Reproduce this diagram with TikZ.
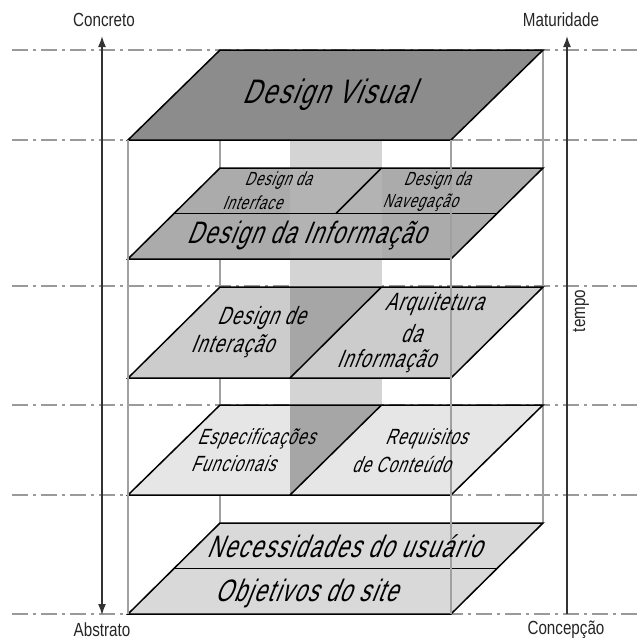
\documentclass[tikz,border=0pt]{standalone}
\usepackage{fontspec}
\setmainfont{Liberation Sans}
\newfontfamily\lblfont[FakeStretch=0.8]{Liberation Sans}
\newfontfamily\sltfont[FakeStretch=0.7,FakeSlant=0.4,LetterSpace=5]{Liberation Sans}
\newfontfamily\dvfont[FakeStretch=0.72,FakeSlant=0.4,LetterSpace=6]{Liberation Sans}
\usetikzlibrary{arrows.meta}
\definecolor{dashc}{HTML}{9A9A9A}
\definecolor{boxc}{HTML}{A0A0A0}
\definecolor{lay1}{HTML}{8C8C8C}
\definecolor{lay2}{HTML}{ABABAB}
\definecolor{lay3}{HTML}{CCCCCC}
\definecolor{lay4}{HTML}{E6E6E6}
\definecolor{lay5}{HTML}{D9D9D9}
\definecolor{bandc}{HTML}{D4D4D4}
\definecolor{darkc}{HTML}{A6A6A6}
\definecolor{axisc}{HTML}{333333}
\tikzset{
  guide/.style={draw=dashc, line width=2.6pt, dash pattern=on 16pt off 5pt on 3pt off 5pt},
  boxline/.style={draw=boxc, line width=1.4pt},
  layer/.style={draw=black, line width=1.5pt, line join=miter},
  dvis/.style={font=\dvfont\fontsize{34}{34}\selectfont, inner sep=0pt},
  big/.style={font=\sltfont\fontsize{31}{31}\selectfont, inner sep=0pt},
  mid/.style={font=\sltfont\fontsize{25}{27}\selectfont, inner sep=0pt},
  sml/.style={font=\sltfont\fontsize{22}{24}\selectfont, inner sep=0pt},
  tny/.style={font=\sltfont\fontsize{19}{20}\selectfont, inner sep=0pt},
  axislbl/.style={font=\lblfont\fontsize{19}{19}\selectfont, text=black!85, inner sep=0pt},
  axisarrow/.style={draw=axisc, line width=1.6pt},
  tip/.style={-{Latex[length=11pt,width=8pt]}}
}
\begin{document}
\begin{tikzpicture}[x=1pt,y=-1pt]
\useasboundingbox (0,0) rectangle (642,641);
\fill[white] (0,0) rectangle (642,641);

% guide lines (behind)
\foreach \yy/\nm in {50/g1,140/g2,286/g3,405/g4,495/g5,614/g6}{
  \coordinate (\nm l) at (12,\yy);
  \coordinate (\nm r) at (642,\yy);
  \draw[guide] (\nm l) -- (\nm r);
}

% shaded vertical band
\fill[bandc] (290,140) rectangle (382,405);

% back vertical edges
\coordinate (bl1) at (220,140); \coordinate (bl2) at (220,523);
\coordinate (br1) at (543,50);  \coordinate (br2) at (543,523);
\draw[boxline] (bl1) -- (bl2);
\draw[boxline] (br1) -- (br2);

% ---------- Layer 1: Design Visual
\fill[lay1] (220,50) -- (543,50) -- (451,140) -- (128,140) -- cycle;
\draw[layer] (220,50) -- (543,50) -- (451,140) -- (128,140) -- cycle;

% ---------- Layer 2
\fill[lay2] (220,168) -- (543,168) -- (451,259) -- (128,259) -- cycle;
\begin{scope}
  \clip (220,168) -- (543,168) -- (451,259) -- (128,259) -- cycle;
  \fill[white, opacity=0.10] (290,160) rectangle (382,265);
\end{scope}
\draw[layer] (220,168) -- (543,168) -- (451,259) -- (128,259) -- cycle;
\draw[layer] (174,213.5) -- (497,213.5);
\draw[layer] (381.5,168) -- (336,213.5);

% ---------- Layer 3
\fill[lay3] (220,287) -- (543,287) -- (451,378) -- (128,378) -- cycle;
\fill[darkc] (290,287) -- (381.5,287) -- (290,378) -- cycle;
\draw[layer] (220,287) -- (543,287) -- (451,378) -- (128,378) -- cycle;
\draw[layer] (381.5,287) -- (290,378);

% ---------- Layer 4
\fill[lay4] (220,405) -- (543,405) -- (451,495) -- (128,495) -- cycle;
\fill[darkc] (290,405) -- (381.5,405) -- (290,495) -- cycle;
\draw[layer] (220,405) -- (543,405) -- (451,495) -- (128,495) -- cycle;
\draw[layer] (381.5,405) -- (290,495);

% ---------- Layer 5
\fill[lay5] (220,523) -- (543,523) -- (451,614) -- (128,614) -- cycle;
\draw[layer] (220,523) -- (543,523) -- (451,614) -- (128,614) -- cycle;
\draw[layer] (174,568.5) -- (497,568.5);

% front vertical edges (over the layers)
\coordinate (fl1) at (128,140); \coordinate (fl2) at (128,614);
\coordinate (fr1) at (451,140); \coordinate (fr2) at (451,614);
\draw[boxline] (fl1) -- (fl2);
\draw[boxline] (fr1) -- (fr2);

% ---------- labels
\node[dvis] (dv) at (328,95) {Design Visual};

\node[tny] (di1) at (278,181) {Design da};
\node[tny] (di2) at (252,203) {Interface};
\node[tny] (dn1) at (437,181) {Design da};
\node[tny] (dn2) at (420,203) {Navegação};
\node[big] (dinf) at (306,236) {Design da Informação};

\node[mid] (dx1) at (261,318) {Design de};
\node[mid] (dx2) at (232,346) {Interação};
\node[mid] (ai1) at (434,304) {Arquitetura};
\node[mid] (ai2) at (411,334) {da};
\node[mid] (ai3) at (386,361) {Informação};

\node[sml] (ef1) at (256,439) {Especificações};
\node[sml] (ef2) at (233,464) {Funcionais};
\node[sml] (rc1) at (426,439) {Requisitos};
\node[sml] (rc2) at (401,464) {de Conteúdo};

\node[big] (nu) at (344,546) {Necessidades do usuário};
\node[big] (os) at (306,593) {Objetivos do site};

% ---------- axes
\node[axislbl] (conc) at (104,20) {Concreto};
\node[axislbl] (abst) at (102,630) {Abstrato};
\node[axislbl] (matu) at (561,20) {Maturidade};
\node[axislbl] (conp) at (566,630) {Concepção};
\coordinate (la1) at (102,36); \coordinate (la2) at (102,615);
\draw[axisarrow, {Latex[length=11pt,width=8pt]}-{Latex[length=11pt,width=8pt]}] (la1) -- (la2);
\coordinate (ra1) at (567,614); \coordinate (ra2) at (567,36);
\draw[axisarrow, tip] (ra1) -- (ra2);
\node[axislbl, rotate=90] (tempo) at (581,311) {tempo};
\end{tikzpicture}
\end{document}
